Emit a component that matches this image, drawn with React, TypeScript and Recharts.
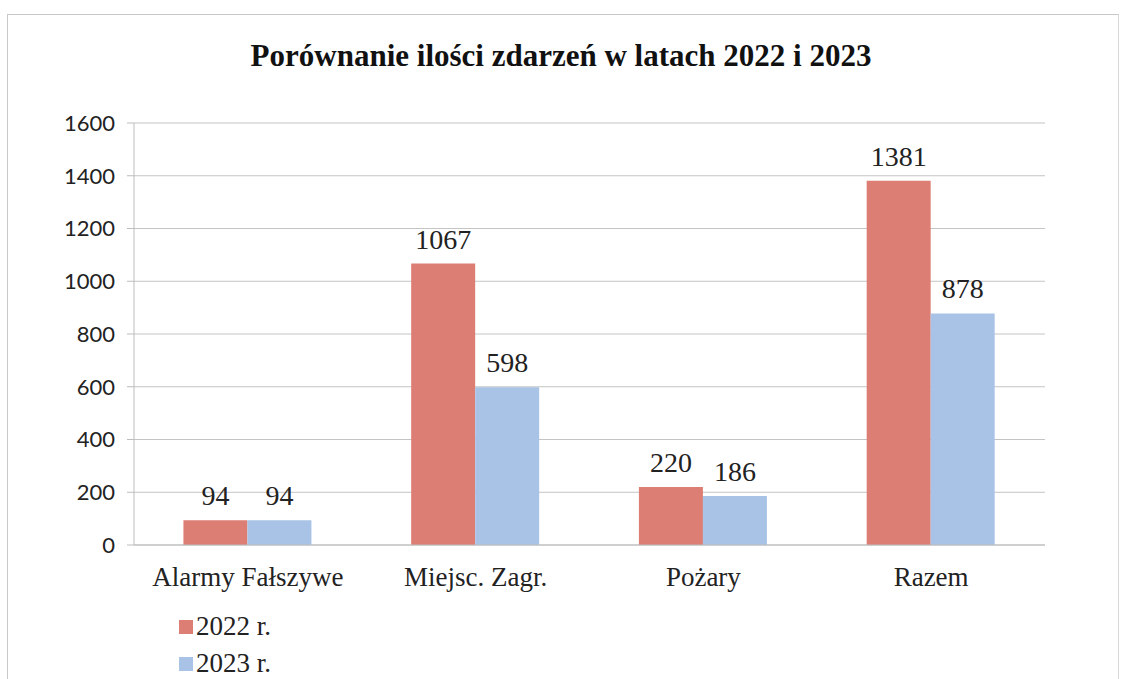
import {
  BarChart,
  Bar,
  XAxis,
  YAxis,
  CartesianGrid,
  LabelList,
} from "recharts";

const categories = ["Alarmy Fałszywe", "Miejsc. Zagr.", "Pożary", "Razem"];
const values2022 = [94, 1067, 220, 1381];
const values2023 = [94, 598, 186, 878];
const yTicks = [0, 200, 400, 600, 800, 1000, 1200, 1400, 1600];

const data = categories.map((name, i) => ({
  name,
  y2022: values2022[i],
  y2023: values2023[i],
}));

const RED = "#dc7e74";
const BLUE = "#a8c3e6";
const SERIF = "'Liberation Serif', 'Times New Roman', serif";

function LegendBox() {
  const items = [
    { label: "2022 r.", color: RED },
    { label: "2023 r.", color: BLUE },
  ];
  return (
    <div
      style={{
        position: "absolute",
        left: 179,
        top: 608,
        fontFamily: SERIF,
        fontSize: 27,
        color: "#222",
      }}
    >
      {items.map((it) => (
        <div key={it.label} style={{ display: "flex", alignItems: "center", height: 37 }}>
          <span
            style={{
              width: 14,
              height: 14,
              background: it.color,
              display: "inline-block",
              marginRight: 3,
            }}
          />
          {it.label}
        </div>
      ))}
    </div>
  );
}

export default function App() {
  return (
    <div style={{ position: "absolute", left: 0, top: 0, width: 1122, height: 679, background: "#fff", overflow: "hidden" }}>
      <div
        style={{
          position: "absolute",
          left: 7,
          top: 14,
          width: 1110,
          height: 700,
          borderTop: "1px solid #c8c8c8",
          borderLeft: "1px solid #c8c8c8",
          borderRight: "1px solid #d8d8d8",
        }}
      />
      <div
        style={{
          position: "absolute",
          left: 0,
          top: 38,
          width: 1122,
          textAlign: "center",
          fontFamily: SERIF,
          fontWeight: "bold",
          fontSize: 31,
          color: "#111",
        }}
      >
        Porównanie ilości zdarzeń w latach 2022 i 2023
      </div>
      <BarChart
        width={1122}
        height={679}
        data={data}
        margin={{ top: 123, right: 77, left: 54, bottom: 74 }}
        barCategoryGap="21.7%"
        barGap={0}
        style={{ position: "absolute", left: 0, top: 0 }}
      >
        <CartesianGrid vertical={false} stroke="#c4c4c4" />
        <XAxis
          dataKey="name"
          stroke="#bdbdbd"
          tickLine={false}
          tick={{ fontFamily: SERIF, fontSize: 27, fill: "#222" }}
          tickMargin={16}
          height={60}
        />
        <YAxis
          domain={[0, 1600]}
          ticks={yTicks}
          width={80}
          stroke="#bdbdbd"
          tickSize={7}
          tickMargin={12}
          tick={{ fontFamily: "Lato, 'Open Sans', sans-serif", fontSize: 22, fill: "#222" }}
        />
        <Bar dataKey="y2022" name="2022 r." fill={RED} isAnimationActive={false}>
          <LabelList
            dataKey="y2022"
            position="top"
            offset={15}
            style={{ fontFamily: SERIF, fontSize: 28, fill: "#222" }}
          />
        </Bar>
        <Bar dataKey="y2023" name="2023 r." fill={BLUE} isAnimationActive={false}>
          <LabelList
            dataKey="y2023"
            position="top"
            offset={15}
            style={{ fontFamily: SERIF, fontSize: 28, fill: "#222" }}
          />
        </Bar>
      </BarChart>
      <LegendBox />
    </div>
  );
}
